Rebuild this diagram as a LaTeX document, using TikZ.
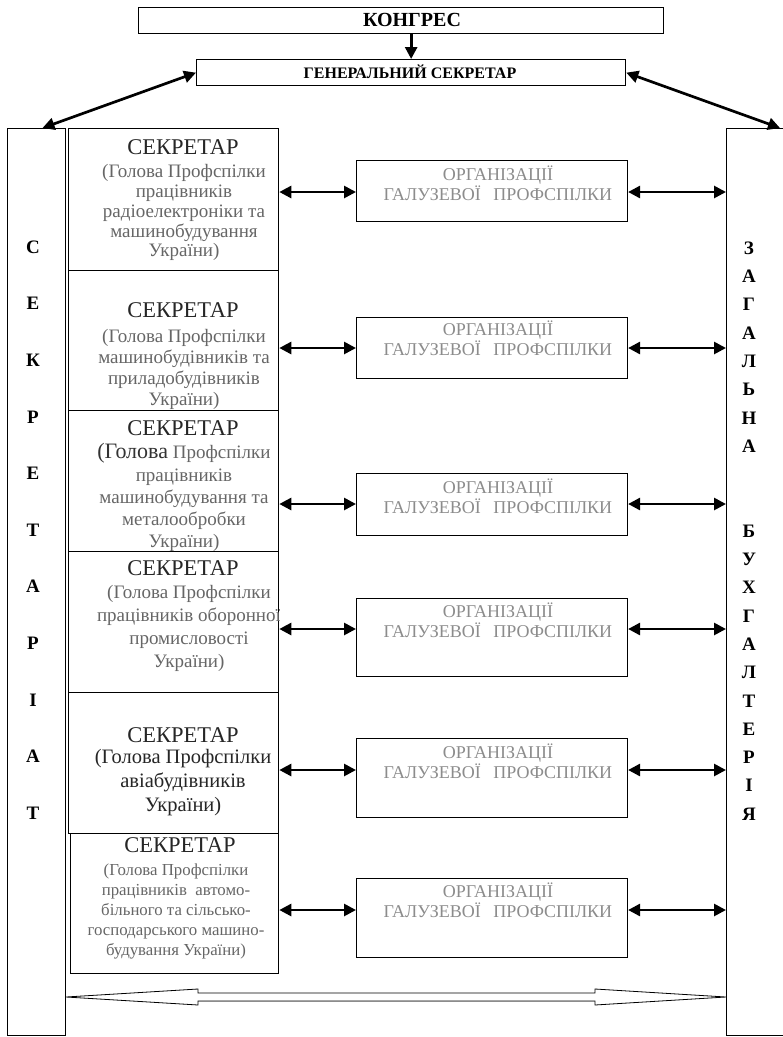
\documentclass[tikz,border=0pt]{standalone}
\usepackage{fontspec}
\setmainfont{Liberation Serif}
\usetikzlibrary{arrows.meta,calc}

\begin{document}
\begin{tikzpicture}[x=1pt,y=-1pt,
  frame/.style={draw, line width=1pt, inner sep=0pt, anchor=north west},
  secbox/.style={frame, line width=1.3pt, minimum width=210pt},
  orgbox/.style={frame, line width=1.1pt, minimum width=271pt},
  link/.style={{Triangle[length=12pt,width=12pt]}-{Triangle[length=12pt,width=12pt]}, line width=2.7pt},
  down/.style={-{Triangle[length=12pt,width=12pt]}, line width=2.7pt},
  letters/.style={font=\fontsize{19}{#1}\selectfont\bfseries, align=center, anchor=north, inner sep=0pt},
  title/.style={font=\fontsize{22.5}{24}\selectfont, text=black!85, inner sep=0pt},
  sub/.style={font=\fontsize{19}{#1}\selectfont, text=black!60, align=center, anchor=north, inner sep=0pt},
  orgtext/.style={font=\fontsize{18}{20}\selectfont, text=black!45, align=center, anchor=north, inner sep=0pt}]

\useasboundingbox (0,0) rectangle (783,1037);
\clip (0,0) rectangle (783,1037);
\fill[white] (0,0) rectangle (783,1037);

% top of the scheme
\node[frame, minimum width=525pt, minimum height=26pt] (congress) at (138,7) {};
\node[font=\fontsize{20}{20}\selectfont\bfseries, inner sep=0pt] (congresstext) at (412,20) {КОНГРЕС};
\node[frame, line width=1.3pt, minimum width=429pt, minimum height=26pt] (gensec) at (196,59) {};
\node[font=\fontsize{16}{16}\selectfont\bfseries, inner sep=0pt] (gensectext) at (410,72) {ГЕНЕРАЛЬНИЙ СЕКРЕТАР};
\draw[down] (gensec.north |- congress.south) -- (gensec.north);

% side columns
\node[frame, minimum width=58pt, minimum height=907pt] (secr) at (7,128) {};
\node[frame, minimum width=80pt, minimum height=907pt] (acc) at (726,128) {};
\node[letters=56.6pt] (secrtext) at (33,240.5) {С\\Е\\К\\Р\\Е\\Т\\А\\Р\\І\\А\\Т};
\node[letters=28.3pt] (acctext) at (749,241.5) {З\\А\\Г\\А\\Л\\Ь\\Н\\А\\~\\~\\Б\\У\\Х\\Г\\А\\Л\\Т\\Е\\Р\\І\\Я};
\coordinate (secrin) at ($(secr.north)+(6,0)$);
\coordinate (accin) at ($(acc.north west)+(54,0)$);
\draw[link] (gensec.west) -- (secrin);
\draw[link] (gensec.east) -- (accin);

% secretaries
\node[secbox, minimum height=142pt] (sec1) at (68,128) {};
\node[secbox, minimum height=140pt] (sec2) at (68,270) {};
\node[secbox, minimum height=141pt] (sec3) at (68,410) {};
\node[secbox, minimum height=141pt] (sec4) at (68,551) {};
\node[secbox, minimum height=141pt] (sec5) at (68,692) {};
\node[secbox, minimum width=208pt, minimum height=140pt] (sec6) at (70,833) {};

\begin{scope}
  \clip (sec1.north west) rectangle (sec1.south east);
  \node[title] (sec1title) at (183,147) {СЕКРЕТАР};
  \node[sub=19.75pt] (sec1text) at (184,164.6) {(Голова Профспілки\\працівників\\радіоелектроніки та\\машинобудування\\України)};
\end{scope}
\begin{scope}
  \clip (sec2.north west) rectangle (sec2.south east);
  \node[title] (sec2title) at (183,310) {СЕКРЕТАР};
  \node[sub=21pt] (sec2text) at (184,329.6) {(Голова Профспілки\\машинобудівників та\\приладобудівників\\України)};
\end{scope}
\begin{scope}
  \clip (sec3.north west) rectangle (sec3.south east);
  \node[title] (sec3title) at (183,428) {СЕКРЕТАР};
  \node[sub=22.25pt] (sec3text) at (184,443.5) {{\fontsize{22}{22}\selectfont\color{black!80}(Голова} Профспілки\\працівників\\машинобудування та\\металообробки\\України)};
\end{scope}
\begin{scope}
  \clip (sec4.north west) rectangle (sec4.south east);
  \node[title] (sec4title) at (183,568) {СЕКРЕТАР};
  \node[sub=23pt] (sec4text) at (189,585.6) {(Голова Профспілки\\працівників оборонної\\промисловості\\України)};
\end{scope}
\begin{scope}
  \clip (sec5.north west) rectangle (sec5.south east);
  \node[title] (sec5title) at (183,735) {СЕКРЕТАР};
  \node[sub=24pt, font=\fontsize{20.5}{24}\selectfont, text=black!85] (sec5text) at (183,749) {(Голова Профспілки\\авіабудівників\\України)};
\end{scope}
\begin{scope}
  \clip (sec6.north west) rectangle (sec6.south east);
  \node[title] (sec6title) at (180,845) {СЕКРЕТАР};
  \node[sub=20pt, font=\fontsize{16.8}{20}\selectfont] (sec6text) at (176,863.5) {(Голова Профспілки\\працівників\ \ автомо-\\більного та сільсько-\\господарського машино-\\будування України)};
\end{scope}

% branch organisations
\node[orgbox, minimum height=61pt] (org1) at (356,160) {};
\node[orgbox, minimum height=61pt] (org2) at (356,317) {};
\node[orgbox, minimum height=62pt] (org3) at (356,473) {};
\node[orgbox, minimum height=78pt] (org4) at (356,598) {};
\node[orgbox, minimum height=79pt] (org5) at (356,738) {};
\node[orgbox, minimum height=79pt] (org6) at (356,878) {};
\node[orgtext] (org1text) at (498,165.7) {ОРГАНІЗАЦІЇ\\ГАЛУЗЕВОЇ\hspace{8pt} ПРОФСПІЛКИ};
\node[orgtext] (org2text) at (498,320.7) {ОРГАНІЗАЦІЇ\\ГАЛУЗЕВОЇ\hspace{8pt} ПРОФСПІЛКИ};
\node[orgtext] (org3text) at (498,478.7) {ОРГАНІЗАЦІЇ\\ГАЛУЗЕВОЇ\hspace{8pt} ПРОФСПІЛКИ};
\node[orgtext] (org4text) at (498,602.7) {ОРГАНІЗАЦІЇ\\ГАЛУЗЕВОЇ\hspace{8pt} ПРОФСПІЛКИ};
\node[orgtext] (org5text) at (498,743.7) {ОРГАНІЗАЦІЇ\\ГАЛУЗЕВОЇ\hspace{8pt} ПРОФСПІЛКИ};
\node[orgtext] (org6text) at (498,882.7) {ОРГАНІЗАЦІЇ\\ГАЛУЗЕВОЇ\hspace{8pt} ПРОФСПІЛКИ};

% links
\draw[link] (sec1.east |- 0,192) -- (org1.west |- 0,192);
\draw[link] (sec2.east |- 0,348) -- (org2.west |- 0,348);
\draw[link] (sec3.east |- 0,504) -- (org3.west |- 0,504);
\draw[link] (sec4.east |- 0,629) -- (org4.west |- 0,629);
\draw[link] (sec5.east |- 0,770) -- (org5.west |- 0,770);
\draw[link] (sec6.east |- 0,910) -- (org6.west |- 0,910);
\draw[link] (org1.east |- 0,192) -- (acc.west |- 0,192);
\draw[link] (org2.east |- 0,348) -- (acc.west |- 0,348);
\draw[link] (org3.east |- 0,504) -- (acc.west |- 0,504);
\draw[link] (org4.east |- 0,629) -- (acc.west |- 0,629);
\draw[link] (org5.east |- 0,770) -- (acc.west |- 0,770);
\draw[link] (org6.east |- 0,910) -- (acc.west |- 0,910);

% hollow arrow at the bottom
\coordinate (hl) at (secr.east |- 0,997);
\coordinate (hr) at (acc.west |- 0,997);
\draw[line width=0.8pt, line join=miter] (hl) -- ($(hl)+(132,-8)$) -- ($(hl)+(132,-4)$) -- ($(hr)+(-131,-4)$)
  -- ($(hr)+(-131,-8)$) -- (hr) -- ($(hr)+(-131,8)$) -- ($(hr)+(-131,4)$) -- ($(hl)+(132,4)$) -- ($(hl)+(132,8)$) -- cycle;
\draw[black!45, line width=0.8pt] ($(hl)+(133,4)$) -- ($(hr)+(-132,4)$);
\end{tikzpicture}
\end{document}
